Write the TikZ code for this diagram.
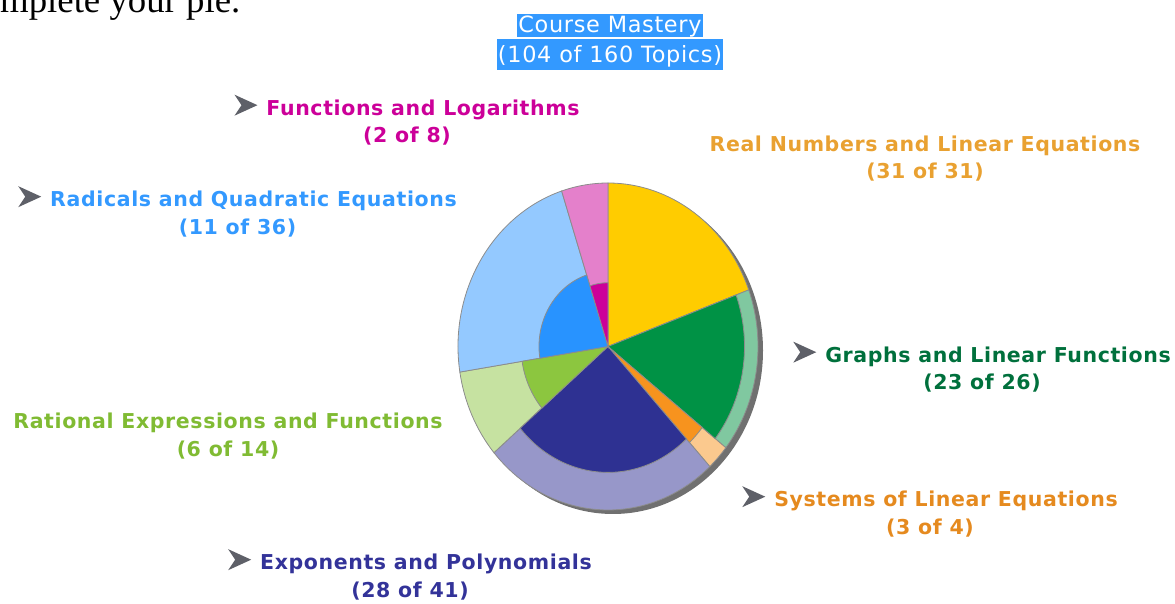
\documentclass[tikz,border=0pt]{standalone}
\usepackage{fontspec}
\setmainfont{DejaVu Sans}[LetterSpace=3]
\newfontfamily\introfont{Liberation Serif}
\usetikzlibrary{positioning}

\definecolor{edgegray}{HTML}{8C8C8C}
\definecolor{shadowgray}{HTML}{707070}
\definecolor{arrowgray}{HTML}{5E6068}
\definecolor{titleblue}{HTML}{3399FF}
% slice colours (light = all topics, dark = mastered)
\definecolor{realc}{HTML}{FFCC00}
\definecolor{graphl}{HTML}{80C8A0}
\definecolor{graphd}{HTML}{009245}
\definecolor{systl}{HTML}{FBC98E}
\definecolor{systd}{HTML}{F7931E}
\definecolor{expol}{HTML}{9797C9}
\definecolor{expod}{HTML}{2E3192}
\definecolor{ratl}{HTML}{C6E2A1}
\definecolor{ratd}{HTML}{8CC63F}
\definecolor{radl}{HTML}{94C9FF}
\definecolor{radd}{HTML}{2893FF}
\definecolor{funl}{HTML}{E480CB}
\definecolor{fund}{HTML}{CC0099}
% label colours
\definecolor{funtxt}{HTML}{CC0099}
\definecolor{radtxt}{HTML}{3399FF}
\definecolor{realtxt}{HTML}{E9A131}
\definecolor{graphtxt}{HTML}{00703C}
\definecolor{rattxt}{HTML}{80BB33}
\definecolor{systtxt}{HTML}{E58A1F}
\definecolor{expotxt}{HTML}{333399}

% start angle, end angle, radius factor, colour
\newcommand{\pieslice}[4]{%
  \filldraw[fill=#4, draw=edgegray, line width=0.8pt] (0,0) -- (#1:{150*#3} and {163.5*#3})
    arc[start angle=#1, end angle=#2, x radius={150*#3}, y radius={163.5*#3}] -- cycle;}
% the grey arrowhead in front of some labels
\newcommand{\pointer}{\smash{\tikz[baseline=0pt]\fill[arrowgray] (0pt,-0.5pt) -- (23pt,10pt) -- (0pt,20.5pt) -- (7pt,10pt) -- cycle;}\hspace{9pt}}

\tikzset{
  topic/.style={align=center, font=\bfseries\fontsize{20.5}{27.5}\selectfont, inner sep=0pt},
  titleline/.style={fill=titleblue, text=white, font=\fontsize{22.4}{24}\selectfont, inner xsep=1pt, inner ysep=0pt}
}

\begin{document}
\begin{tikzpicture}[x=1pt, y=1pt]
    \useasboundingbox (0,0) rectangle (1175,604);

    % the text cut off at the top
    \node[anchor=base east, font=\introfont\fontsize{36.8}{37}\selectfont, inner sep=0pt] (intro) at (240.5,591.3) {complete your pie.};

    % the title
    \node[titleline, text height=19pt, text depth=4pt] (title1) at (610,578.5) {Course Mastery};
    \node[titleline, text height=22.7pt, text depth=8.3pt, below=2pt of title1] (title2) {(104 of 160 Topics)};

    % draw the pie
    \begin{scope}[shift={(608,257.5)}]
      % shadow
      \fill[shadowgray] (5,-4) ellipse [x radius=150, y radius=163.5];
      % all topics
      \pieslice{90}{20.25}{1}{realc}
      \pieslice{20.25}{-38.25}{1}{graphl}
      \pieslice{-38.25}{-47.25}{1}{systl}
      \pieslice{-47.25}{-139.5}{1}{expol}
      \pieslice{-139.5}{-171}{1}{ratl}
      \pieslice{-171}{-252}{1}{radl}
      \pieslice{-252}{-270}{1}{funl}
      % mastered topics
      \pieslice{20.25}{-38.25}{0.91}{graphd}
      \pieslice{-38.25}{-47.25}{0.80}{systd}
      \pieslice{-47.25}{-139.5}{0.77}{expod}
      \pieslice{-139.5}{-171}{0.58}{ratd}
      \pieslice{-171}{-252}{0.46}{radd}
      \pieslice{-252}{-270}{0.39}{fund}
    \end{scope}

    % the labels
    \node[topic, text=funtxt] (funlab) at (407,481.5) {\pointer Functions and Logarithms\\(2 of 8)};
    \node[topic, text=radtxt] (radlab) at (237.5,390) {\pointer Radicals and Quadratic Equations\\(11 of 36)};
    \node[topic, text=realtxt] (reallab) at (925,445.5) {Real Numbers and Linear Equations\\(31 of 31)};
    \node[topic, text=graphtxt] (graphlab) at (982,234.5) {\pointer Graphs and Linear Functions\\(23 of 26)};
    \node[topic, text=rattxt] (ratlab) at (228,168) {Rational Expressions and Functions\\(6 of 14)};
    \node[topic, text=systtxt] (systlab) at (930,90) {\pointer Systems of Linear Equations\\(3 of 4)};
    \node[topic, text=expotxt] (expolab) at (410,27) {\pointer Exponents and Polynomials\\(28 of 41)};
\end{tikzpicture}
\end{document}
